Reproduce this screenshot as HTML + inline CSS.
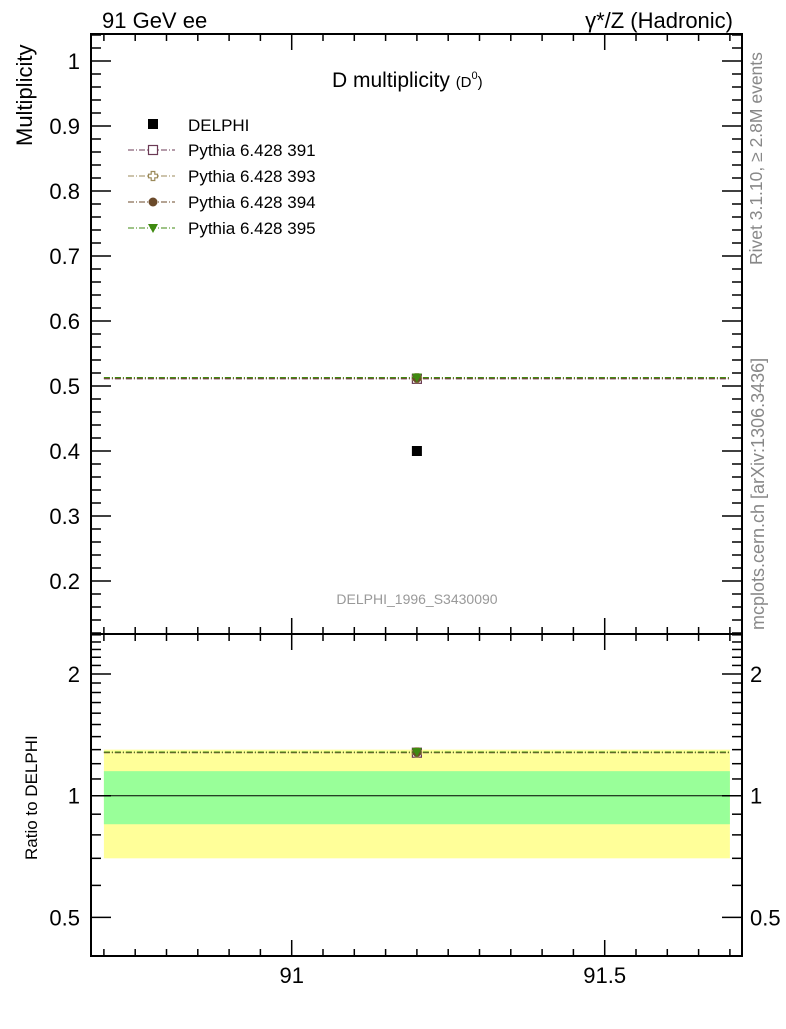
<!DOCTYPE html>
<html><head><meta charset="utf-8"><style>
body{margin:0;background:#fff;}
svg text{font-family:"Liberation Sans",sans-serif;}
</style></head><body>
<svg id="c" width="786" height="1024" xmlns="http://www.w3.org/2000/svg"></svg>
<script>
const xBins=[[90.7,91.7]];
const xCenters=[91.2];
const dataVals=[0.4];
const dataStatErr=[0.06];
const dataTotErr=[0.12];
const mcNames=["Pythia 6.428 391","Pythia 6.428 393","Pythia 6.428 394","Pythia 6.428 395"];
const mcVals=[0.511,0.512,0.512,0.513];
const mcColors=["#6b3a55","#9b8a5a","#6b4a2a","#3f8a10"];
const mainTicks=[0.2,0.3,0.4,0.5,0.6,0.7,0.8,0.9,1];
const ratioTicks=[0.5,1,2];
const xTicks=[91,91.5];

const S=document.getElementById('c');
const NS="http://www.w3.org/2000/svg";
function el(t,a,p){const e=document.createElementNS(NS,t);for(const k in a)e.setAttribute(k,a[k]);(p||S).appendChild(e);return e;}
const L=91,R=742,T=34,M=634,B=956;
const X=v=>291.7+(v-91)*626;
const Y=v=>61+(1-v)*650;
const YR=v=>795.7-Math.log2(v)*121.7;

for(let i=0;i<xBins.length;i++){
 const x0=X(xBins[i][0]),x1=X(xBins[i][1]);
 const tu=(dataVals[i]+dataTotErr[i])/dataVals[i],tl=(dataVals[i]-dataTotErr[i])/dataVals[i];
 const su=(dataVals[i]+dataStatErr[i])/dataVals[i],sl=(dataVals[i]-dataStatErr[i])/dataVals[i];
 let r=el('rect',{x:x0,y:YR(tu),width:x1-x0,height:YR(tl)-YR(tu),fill:'#ffff99'});
 
 r=el('rect',{x:x0,y:YR(su),width:x1-x0,height:YR(sl)-YR(su),fill:'#99ff99'});
 
}
el('line',{x1:L,x2:R,y1:YR(1),y2:YR(1),stroke:'#000','stroke-width':1});

function marker(k,cx,cy,g){
 const c=mcColors[k];
 if(k==0) el('rect',{x:cx-4.5,y:cy-4.5,width:9,height:9,fill:'#fff',stroke:c,'stroke-width':1.2},g);
 else if(k==1) el('path',{d:`M${cx-1.8},${cy-4.5}h3.6v2.7h2.7v3.6h-2.7v2.7h-3.6v-2.7h-2.7v-3.6h2.7z`,fill:'#fff',stroke:c,'stroke-width':1.2},g);
 else if(k==2) el('circle',{cx:cx,cy:cy,r:4.5,fill:c},g);
 else el('path',{d:`M${cx-5},${cy-4}h10l-5,9z`,fill:c},g);
}
for(let k=0;k<mcVals.length;k++){
 const g=el('g',{});
 for(let i=0;i<xBins.length;i++){
  const x0=X(xBins[i][0]),x1=X(xBins[i][1]);
  el('line',{x1:x0,x2:x1,y1:Y(mcVals[k]),y2:Y(mcVals[k]),stroke:mcColors[k],'stroke-width':1,'stroke-dasharray':'6,2,1,2'},g);
  const rv=mcVals[k]/dataVals[i];
  el('line',{x1:x0,x2:x1,y1:YR(rv),y2:YR(rv),stroke:mcColors[k],'stroke-width':1,'stroke-dasharray':'6,2,1,2'},g);
  marker(k,X(xCenters[i]),Y(mcVals[k]),g);
  marker(k,X(xCenters[i]),YR(rv),g);
 }
}
for(let i=0;i<dataVals.length;i++){
 const r=el('rect',{x:X(xCenters[i])-5,y:Y(dataVals[i])-5,width:10,height:10,fill:'#000'});
 
}

el('rect',{x:L,y:T,width:R-L,height:M-T,fill:'none',stroke:'#000','stroke-width':2});
el('rect',{x:L,y:M,width:R-L,height:B-M,fill:'none',stroke:'#000','stroke-width':2});

for(let i=0;i<=20;i++){
 const vv=Math.round((90.7+i*0.05)*100)/100,x=X(vv);
 if(x<L||x>R)continue;
 const maj=Math.abs(vv*2-Math.round(vv*2))<1e-6, len=maj?16:7;
 for(const [y0,d] of [[T,1],[M,-1],[M,1],[B,-1]]) el('line',{x1:x,x2:x,y1:y0,y2:y0+d*len,stroke:'#000','stroke-width':1.5});
}
xTicks.forEach(v=>{const t=el('text',{x:X(v),y:983,'font-size':22,'text-anchor':'middle'});t.textContent=String(v);
 });

for(let i=6;i<=52;i++){
 const v=i/50,y=Y(v);if(y<T||y>M)continue;
 const maj=i%5==0,len=maj?20:10;
 el('line',{x1:L,x2:L+len,y1:y,y2:y,stroke:'#000','stroke-width':1.5});
 el('line',{x1:R,x2:R-len,y1:y,y2:y,stroke:'#000','stroke-width':1.5});
}
mainTicks.forEach(v=>{const t=el('text',{x:80,y:Y(v)+8,'font-size':22,'text-anchor':'end'});t.textContent=v==1?'1':v.toFixed(1);
 });

const rminor=[0.5,0.6,0.7,0.8,0.9,1,1.1,1.2,1.3,1.4,1.5,1.6,1.7,1.8,1.9,2,2.1,2.2,2.3,2.4,2.5];
rminor.forEach(v=>{const y=YR(v);if(y<M||y>B)return;const maj=ratioTicks.includes(v),len=maj?20:10;
 el('line',{x1:L,x2:L+len,y1:y,y2:y,stroke:'#000','stroke-width':1.5});
 el('line',{x1:R,x2:R-len,y1:y,y2:y,stroke:'#000','stroke-width':1.5});});
ratioTicks.forEach(v=>{
 let t=el('text',{x:80,y:YR(v)+8,'font-size':22,'text-anchor':'end'});t.textContent=String(v);
 
 t=el('text',{x:750,y:YR(v)+8,'font-size':22});t.textContent=String(v);
 });

function txt(s,a,name){const t=el('text',a);t.textContent=s;return t;}
txt('91 GeV ee',{x:102,y:28,'font-size':22},'energy-label');
txt('γ*/Z (Hadronic)',{x:733,y:28,'font-size':22,'text-anchor':'end'},'process-label');
txt('Multiplicity',{x:0,y:0,'font-size':22,transform:'translate(32,146) rotate(-90)'},'y-axis-title');
txt('Ratio to DELPHI',{x:0,y:0,'font-size':17,transform:'translate(37,860) rotate(-90)'},'ratio-axis-title');
const tt=txt('D multiplicity ',{x:332,y:87,'font-size':21},'plot-title');
const ts=el('tspan',{'font-size':15},tt);ts.textContent='(D';
const ts2=el('tspan',{'font-size':11,dy:-8},tt);ts2.textContent='0';
const ts3=el('tspan',{'font-size':15,dy:8},tt);ts3.textContent=')';
txt('DELPHI_1996_S3430090',{x:417,y:604,'font-size':14,fill:'#999','text-anchor':'middle'},'analysis-id');
txt('Rivet 3.1.10, ≥ 2.8M events',{x:0,y:0,'font-size':17.5,fill:'#888',transform:'translate(762,265) rotate(-90)'},'rivet-label');
txt('mcplots.cern.ch [arXiv:1306.3436]',{x:0,y:0,'font-size':18,fill:'#888',transform:'translate(764,630) rotate(-90)'},'mcplots-label');

const lg=el('g',{});
el('rect',{x:148,y:119,width:10,height:10,fill:'#000'},lg);
txt('DELPHI',{x:188,y:131,'font-size':17},'legend-entry-delphi');
mcNames.forEach((n,k)=>{const y=150+k*26;
 el('line',{x1:128,x2:175,y1:y,y2:y,stroke:mcColors[k],'stroke-width':1,'stroke-dasharray':'6,2,1,2'},lg);
 marker(k,153,y,lg);
 txt(n,{x:188,y:y+6,'font-size':17},'legend-entry-'+k);});
</script>
</body></html>
